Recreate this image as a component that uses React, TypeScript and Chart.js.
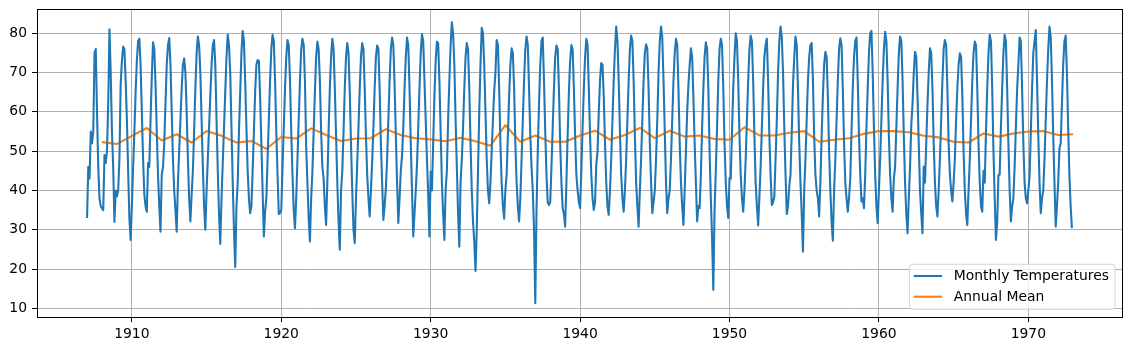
import React, { useEffect, useRef } from 'react';
import { Chart, registerables } from 'chart.js';

Chart.register(...registerables);

const startYear = 1907;

// Monthly temperatures, one row per year (Jan..Dec), 1907..1972
const monthlyTemps: number[] = [
  33, 46, 43, 55, 52, 55, 75, 76, 60, 46, 38, 36, // 1907
  35.5, 35, 49, 47, 50, 62, 81, 70, 55, 46, 32, 40, // 1908
  38.5, 40, 48, 67, 73, 76.6, 76, 68, 58, 45, 33, 27.4, // 1909
  36, 46, 55, 65, 73, 78, 78.6, 72, 60, 48, 39, 36, // 1910
  34.6, 47, 46, 58, 69, 77.7, 76, 67, 55, 44, 36, 29.5, // 1911
  44, 46, 52, 62, 72, 77, 78.8, 72, 60, 48, 40, 35, // 1912
  29.5, 42, 50, 58, 66, 72, 73.6, 70, 60, 48, 38, 32.1, // 1913
  38.9, 45, 55, 66, 75, 79.2, 77, 70, 58, 46, 36, 30, // 1914
  40, 48, 56, 64, 72, 77, 78.3, 72, 58, 45, 34, 26.4, // 1915
  38, 47, 56, 65, 74, 79.7, 77, 70, 56, 42, 30, 20.5, // 1916
  35.9, 42, 55, 65, 75, 80.6, 78, 68, 56, 45, 38, 34.2, // 1917
  36, 45, 55, 65, 72, 73.2, 73, 64, 52, 40, 28.3, 34.5, // 1918
  38, 48, 58, 68, 76, 79.6, 78, 68, 55, 44, 34, 34.2, // 1919
  35, 46, 56, 66, 74, 78.3, 77, 68, 55, 44, 35, 30.4, // 1920
  38, 48, 58, 68, 76, 78.6, 77, 68, 51, 42, 33, 27, // 1921
  38, 44.8, 55, 65, 74, 77.9, 76, 68, 55, 46, 43, 36, // 1922
  31.2, 42, 55, 66, 74, 78.6, 76, 66, 54, 42, 32, 24.9, // 1923
  40, 44.8, 55, 66, 74, 77.5, 75, 65, 52, 40, 30, 26.6, // 1924
  38, 47, 56, 66, 74, 77.5, 76, 66, 54, 44, 38, 33.4, // 1925
  40, 47.4, 56, 66, 74, 76.9, 76, 66, 52, 42, 32.5, 36, // 1926
  40.6, 48, 58, 68, 76, 78.9, 77, 67, 54, 42, 31.7, 38, // 1927
  45, 49, 56, 66, 74, 78.9, 77, 66, 52, 40, 28.3, 34, // 1928
  40, 46.5, 56, 66, 75, 79.8, 78, 68, 58, 48, 38.9, 28.3, // 1929
  44.8, 40, 52, 64, 73, 77.9, 77.5, 68, 55, 42, 34, 27.4, // 1930
  40.1, 45, 58, 68, 77, 82.8, 80, 72, 58, 46, 34, 25.7, // 1931
  42, 48, 56, 66, 74, 77.5, 76, 66, 52, 40, 32, 27, // 1932
  19.5, 30, 45, 60, 72, 81.4, 80, 72, 60, 48, 40, 36.7, // 1933
  42, 50, 58, 65.2, 70, 78.3, 77, 66, 52, 42, 36, 32.8, // 1934
  40.1, 44, 54, 64, 72, 76.2, 75, 66, 52, 42, 36, 32.1, // 1935
  38, 48, 58, 68, 76, 79.2, 77, 66, 54, 46, 40, 30, // 1936
  11.3, 35, 50, 62, 72, 78, 78.9, 68, 55, 44, 37, 36.3, // 1937
  37, 46, 56, 66, 74, 76.9, 76, 66, 52, 42, 35.5, 34, // 1938
  30.8, 42, 54, 65, 73, 77, 76, 66, 54, 44, 40, 37, // 1939
  35.5, 45, 56, 66, 74, 78.6, 77, 66, 54, 44, 38, 35, // 1940
  37, 46.5, 50, 60, 68, 72.4, 72, 64, 52, 42, 35.9, 33.8, // 1941
  40, 48, 58, 68, 76, 81.7, 78, 68, 55, 44, 38, 34.6, // 1942
  40, 48, 58, 68, 76, 79.4, 78, 68, 54, 42, 36, 30.8, // 1943
  40, 48, 58, 68, 75, 77.2, 76, 66, 52, 42, 34.2, 37, // 1944
  40, 48, 58, 70, 78, 81.7, 79, 68, 55, 42, 34.2, 38, // 1945
  40, 48, 58, 68, 75, 78.6, 77, 66, 52, 42, 36, 31.2, // 1946
  40, 50, 60, 66.9, 72, 76.2, 74, 64, 52, 42, 32.1, 36, // 1947
  35.5, 44, 56, 66, 74, 77.7, 76, 66, 50, 38, 28, 14.7, // 1948
  35, 45, 56, 68, 76, 78.6, 77, 66, 52, 42, 36, 33, // 1949
  43.1, 43, 55, 66, 74, 80, 78, 68, 54, 44, 38, 34.6, // 1950
  40, 48, 58, 68, 76, 79.4, 78, 68, 54, 42, 36, 31.1, // 1951
  38.2, 46, 56, 66, 74, 77, 78.6, 68, 54, 44, 36.3, 37, // 1952
  38.4, 48, 58, 70, 78, 81.7, 79, 70, 56, 44, 34, 36, // 1953
  41, 44, 55, 66.9, 74, 79.2, 77, 66, 52, 42, 34, 24.4, // 1954
  40, 48, 58, 68, 74, 77, 77.5, 68, 54, 44, 40, 38, // 1955
  33.4, 42, 54, 64, 72, 75.3, 74, 64, 50, 40, 32, 27.2, // 1956
  40, 48, 58, 68, 76, 78.7, 77, 66, 52, 42, 38, 34.6, // 1957
  38, 43.1, 55, 66, 74, 78, 78.9, 68, 54, 44, 37.2, 38, // 1958
  35.5, 44, 56, 66, 75, 80, 80.6, 70, 56, 44, 36, 31.7, // 1959
  40, 48, 58, 68, 76, 80.4, 78, 68, 54, 44, 38, 34.6, // 1960
  43.1, 46, 56, 66, 75, 79.2, 78, 68, 54, 42, 34, 29.1, // 1961
  38, 46, 56.7, 62, 70, 75.3, 74, 64, 52, 40, 34, 29.1, // 1962
  46.1, 42, 52, 61.8, 70, 76.2, 75, 66, 52, 42, 36, 33.4, // 1963
  40, 48, 58, 68, 76, 78.3, 77, 66, 52, 44, 40, 37.2, // 1964
  42, 48, 58, 66, 72, 74.9, 74, 64, 50, 40, 34, 31.2, // 1965
  40, 48, 58, 68, 75, 77.9, 77, 66, 52, 42, 36, 34.6, // 1966
  45, 42, 55, 66, 75, 79.6, 78, 66, 50, 38, 27.4, 32, // 1967
  44, 44, 56, 66, 75, 79.6, 78, 66, 52, 40, 32.1, 36, // 1968
  38, 46, 56, 65.6, 72, 78.9, 78, 66, 52, 42, 38, 36.7, // 1969
  40, 43.5, 55, 66, 75, 78, 80.8, 68, 54, 42, 34.2, 38, // 1970
  40, 48, 58, 68, 76, 81.7, 79, 68, 54, 42, 30.8, 36, // 1971
  42, 50.7, 52, 62, 72, 78, 79.4, 70, 56, 44, 36, 30.4, // 1972
];

// Annual means for 1907..1972, plotted at each year's end
const annualMean: number[] = [
  52.3, 51.8, 53.9, 55.9, 52.7, 54.3, 52.2, 55.1, 53.9, 52.2,
  52.6, 50.6, 53.6, 53.2, 55.8, 54.1, 52.6, 53.2, 53.3, 55.6,
  54.1, 53.3, 53.0, 52.5, 53.4, 52.5, 51.4, 56.6, 52.4, 54.0,
  52.4, 52.4, 54.0, 55.2, 52.9, 54.1, 55.9, 53.3, 55.2, 53.7,
  54.0, 53.1, 52.9, 56.1, 54.0, 54.0, 54.7, 55.1, 52.4, 52.9,
  53.3, 54.4, 55.1, 55.1, 54.8, 53.9, 53.5, 52.4, 52.2, 54.5,
  53.7, 54.5, 55.0, 55.1, 54.1, 54.3,
];

const xTickYears: number[] = [1910, 1920, 1930, 1940, 1950, 1960, 1970];
const yTickValues: number[] = [10, 20, 30, 40, 50, 60, 70, 80];
const seriesLabels: string[] = ['Monthly Temperatures', 'Annual Mean'];
const seriesColors: string[] = ['#1f77b4', '#ff7f0e'];

const FONT = '"DejaVu Sans", sans-serif';

export default function App() {
  const ref = useRef<HTMLCanvasElement>(null);

  useEffect(() => {
    document.body.style.margin = '0';
    const monthlyPoints = monthlyTemps.map((v, i) => ({ x: startYear + i / 12, y: v }));
    const annualPoints = annualMean.map((v, i) => ({ x: startYear + 1 + i, y: v }));

    const framePlugin = {
      id: 'frame',
      afterDatasetsDraw(chart: any) {
        const { ctx, chartArea } = chart;
        ctx.save();
        ctx.strokeStyle = '#000';
        ctx.lineWidth = 1;
        ctx.strokeRect(
          Math.round(chartArea.left) + 0.5,
          Math.round(chartArea.top) + 0.5,
          Math.round(chartArea.right - chartArea.left),
          Math.round(chartArea.bottom - chartArea.top)
        );
        ctx.restore();
      },
    };

    const legendPlugin = {
      id: 'mplLegend',
      afterDraw(chart: any) {
        const { ctx, chartArea } = chart;
        const ds = chart.data.datasets;
        ctx.save();
        ctx.font = `13.9px ${FONT}`;
        const textW = Math.max(...ds.map((d: any) => ctx.measureText(d.label).width));
        const boxW = 44.3 + textW + 6;
        const boxH = 45;
        const right = chartArea.right - 7;
        const bottom = chartArea.bottom - 7.7;
        const left = right - boxW;
        const top = bottom - boxH;
        ctx.beginPath();
        (ctx as any).roundRect(left, top, boxW, boxH, 3);
        ctx.fillStyle = 'rgba(255,255,255,0.8)';
        ctx.fill();
        ctx.strokeStyle = 'rgba(204,204,204,0.8)';
        ctx.lineWidth = 1;
        ctx.stroke();
        const rows = [top + 11.7, top + 32.4];
        ds.forEach((d: any, i: number) => {
          ctx.beginPath();
          ctx.moveTo(left + 4.3, rows[i]);
          ctx.lineTo(left + 32.6, rows[i]);
          ctx.strokeStyle = d.borderColor;
          ctx.lineWidth = 2.08;
          ctx.stroke();
          ctx.fillStyle = '#000';
          ctx.textBaseline = 'middle';
          ctx.textAlign = 'left';
          ctx.fillText(d.label, left + 44.3, rows[i] + 0.5);
        });
        ctx.restore();
      },
    };

    const chart = new Chart(ref.current as HTMLCanvasElement, {
      type: 'line',
      data: {
        datasets: [
          {
            label: seriesLabels[0],
            data: monthlyPoints,
            borderColor: seriesColors[0],
            backgroundColor: seriesColors[0],
            borderWidth: 2.08,
            pointRadius: 0,
            tension: 0,
            borderJoinStyle: 'round',
          },
          {
            label: seriesLabels[1],
            data: annualPoints,
            borderColor: seriesColors[1],
            backgroundColor: seriesColors[1],
            borderWidth: 2.08,
            pointRadius: 0,
            tension: 0,
            borderJoinStyle: 'round',
          },
        ],
      },
      options: {
        responsive: false,
        animation: false,
        devicePixelRatio: 1,
        events: [],
        layout: { padding: { top: 9, right: 10, left: 0, bottom: 0 } },
        plugins: {
          legend: { display: false },
          tooltip: { enabled: false },
        },
        scales: {
          x: {
            type: 'linear',
            min: 1903.65,
            max: 1976.27,
            afterBuildTicks: (s: any) => {
              s.ticks = xTickYears.map((v) => ({ value: v }));
            },
            afterFit: (s: any) => {
              s.height = 34;
              s.paddingLeft = 0;
              s.paddingRight = 0;
            },
            grid: { color: '#b0b0b0', lineWidth: 1, drawTicks: true, tickLength: 5, tickColor: '#000' },
            border: { display: false },
            ticks: {
              color: '#000',
              font: { family: FONT, size: 13.9 },
              padding: 4,
              maxRotation: 0,
              autoSkip: false,
              callback: (v: any) => String(v),
            },
          },
          y: {
            type: 'linear',
            min: 7.79,
            max: 86.18,
            afterBuildTicks: (s: any) => {
              s.ticks = yTickValues.map((v) => ({ value: v }));
            },
            afterFit: (s: any) => {
              s.width = 37;
              s.paddingTop = 0;
              s.paddingBottom = 0;
            },
            grid: { color: '#b0b0b0', lineWidth: 1, drawTicks: true, tickLength: 5, tickColor: '#000' },
            border: { display: false },
            ticks: {
              color: '#000',
              font: { family: FONT, size: 13.9 },
              padding: 5,
              autoSkip: false,
              callback: (v: any) => String(v),
            },
          },
        },
      },
      plugins: [framePlugin, legendPlugin],
    } as any);

    return () => chart.destroy();
  }, []);

  return (
    <div style={{ position: 'absolute', left: 0, top: 0, width: 1132, height: 351, background: '#fff' }}>
      <canvas ref={ref} width={1132} height={351} style={{ display: 'block' }} />
    </div>
  );
}
